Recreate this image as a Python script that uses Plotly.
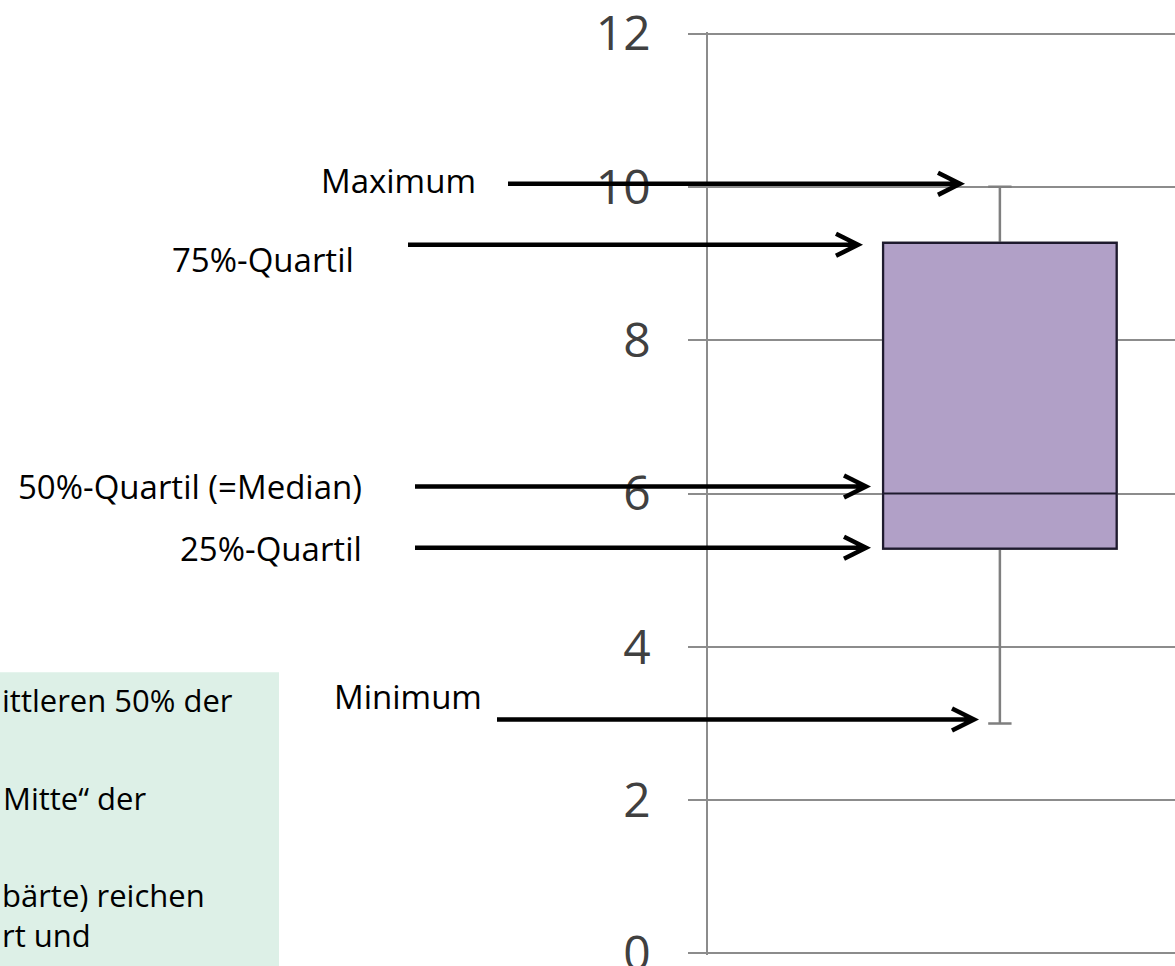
import plotly.graph_objects as go

# ---------------- data ----------------
box_min = [3.0]
box_q1 = [5.28]
box_median = [6.0]
box_q3 = [9.27]
box_max = [10.0]
box_x = [0]
y_ticks = [0, 2, 4, 6, 8, 10, 12]
stat_names = ["Maximum", "75%-Quartil", "50%-Quartil (=Median)", "25%-Quartil", "Minimum"]
note_lines = ["ittleren 50% der", "Mitte\u201c der", "b\u00e4rte) reichen", "rt und"]

# ---------------- layout geometry ----------------
W, H = 1175, 966
XR = [-0.5, 0.3]
YR = [-0.02, 12.02]
Y0_PX, Y12_PX = 953, 34            # pixel rows of values 0 and 12
UNIT = (Y0_PX - Y12_PX) / 12.0
ML, MR = 708, 0
MT = Y12_PX - (YR[1] - 12) * UNIT
MB = (H - Y0_PX) - (0 - YR[0]) * UNIT
PW = W - ML - MR
PH = H - MT - MB

GRID = "#8c8c8c"
FONT = "Open Sans"


def px_x(px):
    return (px - ML) / PW


def px_y(py):
    return (H - MB - py) / PH


def val_y(v, dy_px=0):
    # data value -> paper fraction, with optional pixel shift (up positive)
    return (v - YR[0]) / (YR[1] - YR[0]) + dy_px / PH


fig = go.Figure()

# whiskers (gray)
fig.add_trace(go.Box(
    x=box_x, q1=box_q1, median=box_median, q3=box_q3,
    lowerfence=box_min, upperfence=box_max,
    width=0.4, whiskerwidth=0.1,
    fillcolor="#B1A0C7", line=dict(color="#7f7f7f", width=2.5),
    boxpoints=False, hoverinfo="skip", showlegend=False,
))
# box body (dark outline)
fig.add_trace(go.Box(
    x=box_x, q1=box_q1, median=box_median, q3=box_q3,
    lowerfence=box_q1, upperfence=box_q3,
    width=0.4, whiskerwidth=0,
    fillcolor="#B1A0C7", line=dict(color="#1e1a2e", width=2.2),
    boxpoints=False, hoverinfo="skip", showlegend=False,
))

# ---------------- annotation arrows ----------------
stat_values = [box_max[0], box_q3[0], box_median[0], box_q1[0], box_min[0]]
# tail px, tip px, vertical pixel shift, label right px, label center py
arrow_cfg = [
    (508, 960, 3, 478, 181),
    (408, 858, -2, 356, 260),
    (415, 866, 7, 364, 487),
    (415, 866, 1, 364, 548),
    (497, 974, 4, 484, 696),
]

shapes = []
annotations = []
for name, v, (tail, tip, dy, lab_r, lab_y) in zip(stat_names, stat_values, arrow_cfg):
    y0 = val_y(v, dy)
    hx = 22
    hy = 11 / PH
    path = (f"M {px_x(tail)},{y0} L {px_x(tip - 2)},{y0} "
            f"M {px_x(tip - hx)},{y0 + hy} L {px_x(tip)},{y0} L {px_x(tip - hx)},{y0 - hy}")
    shapes.append(dict(type="path", xref="paper", yref="paper", path=path,
                       line=dict(color="black", width=4.5), layer="above"))
    annotations.append(dict(text=name, xref="paper", yref="paper",
                            x=px_x(lab_r), y=px_y(lab_y), xanchor="right", yanchor="middle",
                            showarrow=False, font=dict(family=FONT, size=33, color="black")))

# green note box (cut at left edge)
shapes.append(dict(type="rect", xref="paper", yref="paper",
                   x0=px_x(0), x1=px_x(279), y0=px_y(H + 2), y1=px_y(672),
                   fillcolor="#DDF0E7", line=dict(width=0), layer="below"))
note_pos = [(0, 700), (1, 798), (0, 895), (0, 935)]
for txt, (lx, cy) in zip(note_lines, note_pos):
    annotations.append(dict(text=txt, xref="paper", yref="paper",
                            x=px_x(lx), y=px_y(cy), xanchor="left", yanchor="middle",
                            showarrow=False, font=dict(family=FONT, size=31, color="black")))

fig.update_layout(
    template="none",
    width=W, height=H,
    margin=dict(l=ML, r=MR, t=MT, b=MB, pad=0),
    paper_bgcolor="white", plot_bgcolor="white",
    boxmode="overlay",
    showlegend=False,
    shapes=shapes,
    annotations=annotations,
    xaxis=dict(range=XR, showgrid=False, zeroline=False, showticklabels=False,
               ticks="", showline=False, automargin=False),
    yaxis=dict(range=YR, tickvals=y_ticks, ticktext=[str(t) for t in y_ticks],
               showgrid=True, gridcolor=GRID, gridwidth=1.5, zeroline=False,
               showline=True, linecolor=GRID, linewidth=1.5,
               ticks="outside", ticklen=18, tickcolor=GRID, tickwidth=1.5,
               ticklabelstandoff=28, ticklabeloverflow="allow",
               tickfont=dict(family=FONT, size=48, color="#404040"), automargin=False),
)

fig.write_html(
    "out.html",
    config={"displayModeBar": False},
    post_script="document.body.style.margin='0';document.body.style.overflow='hidden';",
)
